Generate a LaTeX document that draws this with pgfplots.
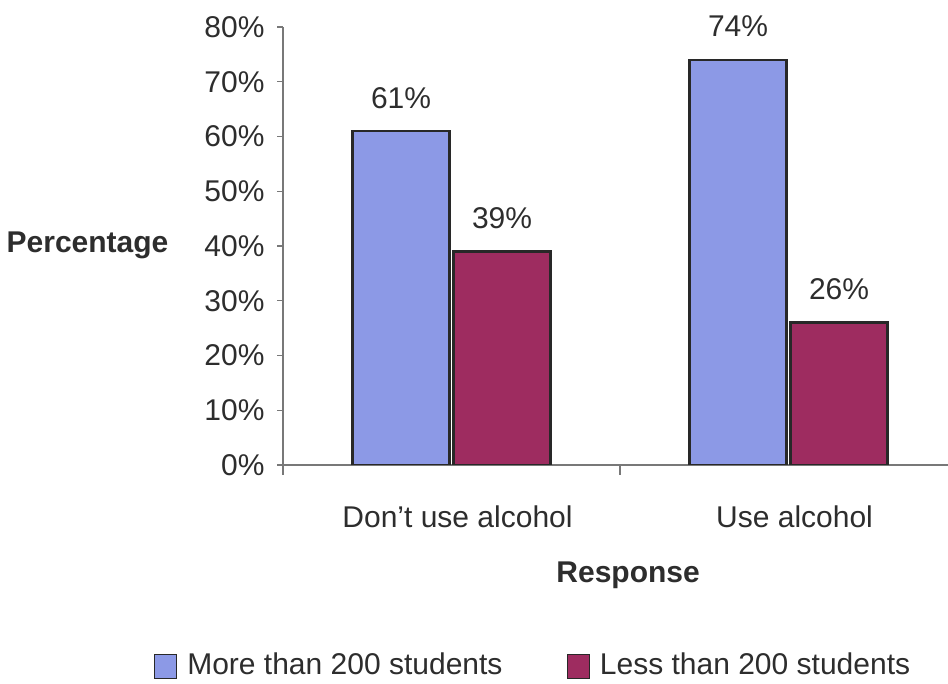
\documentclass[border=0pt]{standalone}
\usepackage{pgfplots}
\pgfplotsset{compat=1.18}
\usepackage{fontspec}
\setmainfont{Liberation Sans}
\definecolor{barblue}{RGB}{140,153,230}
\definecolor{barred}{RGB}{158,44,96}
\definecolor{txt}{RGB}{45,45,45}
\definecolor{edge}{RGB}{40,40,40}
\definecolor{axisgray}{RGB}{120,120,120}
\begin{document}
\begin{tikzpicture}
\useasboundingbox (0,0) rectangle (948pt,684pt);
\begin{axis}[
  at={(283pt,219pt)}, anchor=south west,
  scale only axis, width=665pt, height=438pt,
  font=\fontsize{30}{36}\selectfont\color{txt},
  /pgf/number format/assume math mode=true,
  ybar=4pt, bar width=97pt,
  xmin=-0.5, xmax=1.473,
  ymin=0, ymax=80,
  axis lines=left,
  axis line style={draw=axisgray, line width=1.2pt, -},
  xtick={0,1},
  xticklabels={Don’t use alcohol, Use alcohol},
  minor xtick={-0.5,0.5},
  major x tick style={draw=none},
  minor x tick style={draw=axisgray, line width=1.2pt},
  minor tick length=10pt,
  ytick={0,10,...,80},
  yticklabels={0\%,10\%,20\%,30\%,40\%,50\%,60\%,70\%,80\%},
  y tick style={draw=axisgray, line width=1.2pt},
  major tick length=6pt,
  tick align=outside,
  xticklabel style={anchor=north, yshift=-31pt, xshift=6pt},
  yticklabel style={anchor=east, xshift=-9pt},
  xlabel={\bfseries Response},
  xlabel style={at={(axis description cs:0.519,-0.251)}, anchor=center},
  ylabel={\bfseries Percentage},
  ylabel style={rotate=-90, at={(axis description cs:-0.167,0.502)}, anchor=east},
  nodes near coords={\pgfmathprintnumber{\pgfplotspointmeta}\%},
  every node near coord/.append style={anchor=base, yshift=23pt, font=\fontsize{30}{36}\selectfont\color{txt}},
  legend columns=2,
  legend style={draw=none, fill=none, at={(axis description cs:0.376,-0.457)}, anchor=center,
    font=\fontsize{30}{36}\selectfont\color{txt},
    /tikz/every odd column/.append style={column sep=8pt},
    /tikz/every even column/.append style={column sep=62pt}},
  legend image code/.code={\draw[#1, line width=1.4pt] (0pt,-14pt) rectangle (22pt,10pt);},
]
\addplot[fill=barblue, draw=edge, line width=2.4pt] coordinates {(0,61) (1,74)};
\addplot[fill=barred, draw=edge, line width=2.4pt] coordinates {(0,39) (1,26)};
\legend{More than 200 students, Less than 200 students}
\end{axis}
\end{tikzpicture}
\end{document}
